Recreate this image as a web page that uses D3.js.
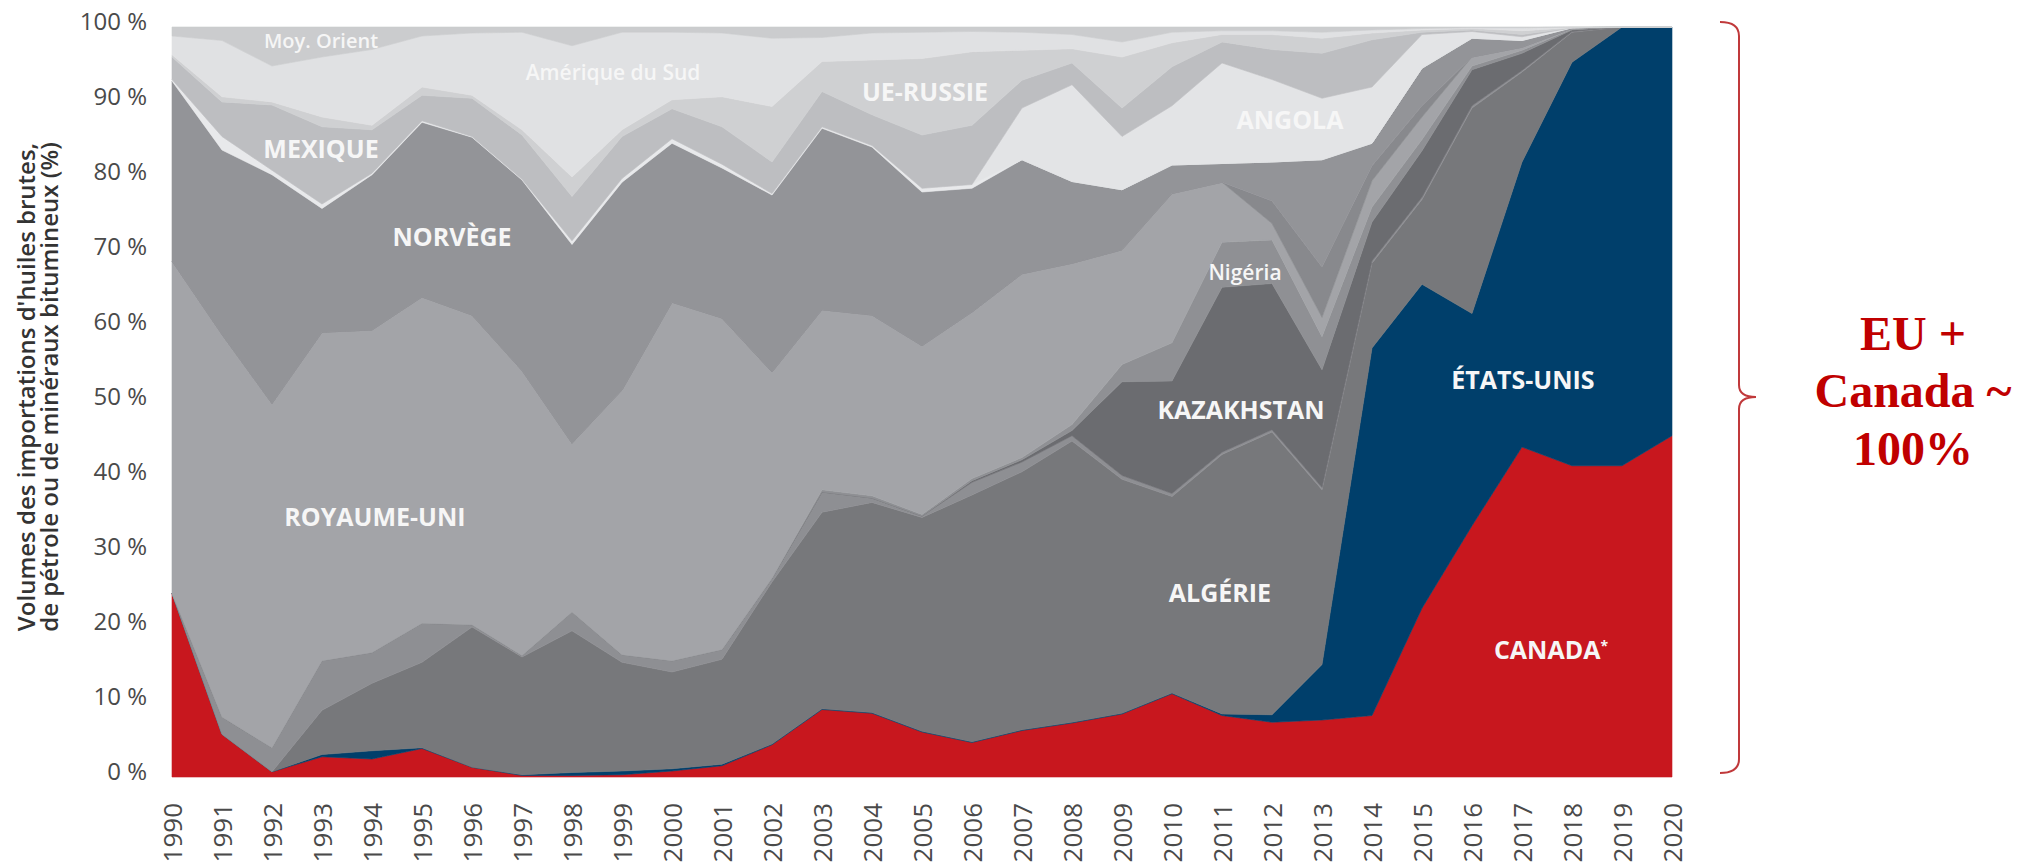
<!DOCTYPE html>
<html>
<head>
<meta charset="utf-8">
<script src="https://cdn.jsdelivr.net/npm/d3@7"></script>
<style>
  body { margin: 0; background: #ffffff; }
  svg { display: block; }
</style>
</head>
<body>
<svg id="chart" width="2037" height="865"></svg>
<script>
// ---------- DATA (shares in %, stacked bottom to top) ----------
const years = [1990,1991,1992,1993,1994,1995,1996,1997,1998,1999,2000,2001,2002,2003,2004,2005,2006,2007,2008,2009,2010,2011,2012,2013,2014,2015,2016,2017,2018,2019,2020];

const canada      = [24.5,5.7,0.7,2.7,2.4,3.8,1.3,0.2,0.2,0.3,0.8,1.5,4.3,9.0,8.5,6.0,4.6,6.2,7.2,8.4,11.1,8.2,7.3,7.6,8.2,22.5,33.5,44.0,41.5,41.5,45.5];
const etatsUnis   = [0,0,0,0.3,1.1,0.1,0,0.1,0.4,0.5,0.3,0.2,0.1,0.1,0.1,0.1,0.1,0.1,0.1,0.1,0.1,0.2,1.0,7.4,49.0,43.2,28.3,38.0,53.8,58.5,54.5];
const algerie     = [0,0,0,5.9,9.0,11.4,18.7,15.7,18.9,14.5,12.9,14.0,21.6,26.2,28.0,28.5,32.9,34.4,37.5,31.2,26.2,34.6,37.7,23.3,11.3,11.3,27.4,12.0,4.0,0,0];
const autreA      = [0,2.3,3.2,6.6,4.1,5.2,0.3,0.2,2.5,1.0,1.5,1.3,0.5,2.7,0.6,0.2,1.7,1.3,0.7,0.5,0.4,0.3,0.3,0.3,0.3,0.3,0.3,0.2,0.1,0,0];
const kazakhstan  = [0,0,0,0,0,0,0,0,0,0,0,0,0,0,0,0,0.2,0.3,0.7,12.5,15.0,22.0,19.5,15.7,5.2,6.2,4.8,2.3,0.2,0,0];
const nigeria     = [0,0,0,0,0,0,0,0,0,0,0,0,0,0.3,0.3,0.2,0.3,0.3,0.8,2.3,5.1,6.0,5.8,4.4,2.0,1.5,0.5,0.4,0.1,0,0];
const royaumeUni  = [44.3,51.0,45.9,43.8,43.0,43.5,41.3,38.0,22.5,35.3,47.8,44.2,27.5,24.0,24.1,22.5,22.2,24.5,21.5,15.3,19.9,8.0,2.2,2.6,3.5,3.0,1.2,0.4,0.1,0,0];
const autreB      = [0,0,0,0,0,0,0,0,0,0,0,0,0,0,0,0,0,0,0,0,0,0,3.0,6.7,2.0,1.5,0,0,0,0,0];
const norvege     = [24.0,24.6,30.5,16.5,20.7,23.3,23.7,25.4,26.5,27.7,21.2,20.0,23.6,24.2,22.4,20.5,16.5,15.2,10.9,8.0,3.8,2.5,5.2,14.3,3.0,5.0,2.5,0.9,0.1,0,0];
const autreW      = [0.2,1.8,0.6,0.6,0.2,0.2,0.1,0.1,0.5,0.5,0.6,0.5,0.2,0.2,0.2,0.5,0.5,0,0,0,0,0,0,0,0,0,0,0,0,0,0];
const angola      = [0,0,0,0,0,0,0,0,0,0,0,0,0,0,0,0,0,6.9,12.9,7.1,7.9,13.4,11.0,8.2,7.5,4.5,0.9,0.5,0,0,0];
const mexique     = [3.0,4.6,8.7,10.3,5.8,3.4,5.1,5.9,5.9,5.6,4.0,5.0,4.2,4.7,4.1,7.1,7.9,3.7,2.9,3.8,5.2,2.8,4.0,6.0,6.3,0.3,0.2,0.3,0,0,0];
const ueRussie    = [0.3,0.7,0.4,1.3,0.6,1.1,0.4,0.7,2.6,0.9,1.2,4.0,7.4,4.0,7.3,10.2,9.8,4.0,1.9,6.8,3.2,1.0,2.0,2.0,0.9,0.3,0.2,0.5,0,0,0];
const ameriqueSud = [2.5,7.5,4.8,8.0,10.1,6.8,8.3,13.0,17.5,13.0,9.0,8.5,9.1,3.2,3.6,3.5,2.7,2.4,1.9,2.0,1.4,0.5,0.5,0.8,0.4,0.2,0.1,0.4,0.1,0,0];
const moyOrient   = [1.2,1.8,5.2,4.0,3.0,1.2,0.8,0.7,2.5,0.7,0.7,0.8,1.5,1.4,0.8,0.7,0.6,0.7,1.0,2.0,0.7,0.5,0.5,0.7,0.4,0.2,0.1,0.1,0,0,0];

const yTicks = [0,10,20,30,40,50,60,70,80,90,100];

// ---------- SERIES / STYLE ----------
const series = [
  {key:"canada",      values:canada,      color:"#c8171e"},
  {key:"etatsUnis",   values:etatsUnis,   color:"#003f6b"},
  {key:"algerie",     values:algerie,     color:"#77787b"},
  {key:"autreA",      values:autreA,      color:"#8e8f93"},
  {key:"kazakhstan",  values:kazakhstan,  color:"#6b6c70"},
  {key:"nigeria",     values:nigeria,     color:"#8f9094"},
  {key:"royaumeUni",  values:royaumeUni,  color:"#a3a4a8"},
  {key:"autreB",      values:autreB,      color:"#88898d"},
  {key:"norvege",     values:norvege,     color:"#939498"},
  {key:"autreW",      values:autreW,      color:"#e8e9eb"},
  {key:"angola",      values:angola,      color:"#e3e4e6"},
  {key:"mexique",     values:mexique,     color:"#bdbec1"},
  {key:"ueRussie",    values:ueRussie,    color:"#cfd0d2"},
  {key:"ameriqueSud", values:ameriqueSud, color:"#e0e1e3"},
  {key:"moyOrient",   values:moyOrient,   color:"#cbccce"}
];

const rows = years.map((yr, i) => {
  const r = {year: yr};
  series.forEach(s => r[s.key] = s.values[i]);
  return r;
});

const svg = d3.select("#chart");
const x = d3.scaleLinear().domain([1990, 2020]).range([172, 1672]);
const y = d3.scaleLinear().domain([0, 100]).range([777, 27]).clamp(true);

const stacked = d3.stack().keys(series.map(s => s.key))(rows);
const area = d3.area()
  .x(d => x(d.data.year))
  .y0(d => y(d[0]))
  .y1(d => y(d[1]))
  .curve(d3.curveLinear);

svg.append("g").selectAll("path")
  .data(stacked)
  .join("path")
  .attr("d", area)
  .attr("fill", (d, i) => series[i].color)
  .attr("stroke", (d, i) => series[i].color)
  .attr("stroke-width", 0.6)
  .attr("stroke-linejoin", "round");

// ---------- AXES ----------
const yAxis = svg.append("g")
  .attr("transform", `translate(${x(1990)},0)`)
  .call(d3.axisLeft(y).tickValues(yTicks).tickSize(0).tickPadding(25).tickFormat(d => d + " %"));
yAxis.select(".domain").remove();
yAxis.selectAll("text")
  .attr("font-family", "'Open Sans', sans-serif")
  .attr("font-size", 24)
  .attr("fill", "#4a4a4a")
  .attr("dy", "0.12em");

const xAxis = svg.append("g")
  .attr("transform", `translate(0,${y(0)})`)
  .call(d3.axisBottom(x).tickValues(years).tickSize(0).tickFormat(d3.format("d")));
xAxis.select(".domain").remove();
xAxis.selectAll("text")
  .attr("font-family", "'Open Sans', sans-serif")
  .attr("font-size", 26)
  .attr("fill", "#4a4a4a")
  .attr("transform", "rotate(-90)")
  .attr("text-anchor", "end")
  .attr("x", -26)
  .attr("y", 0)
  .attr("dy", "0.36em");

// Y axis title
const yTitle = svg.append("text")
  .attr("transform", "translate(38,387) rotate(-90)")
  .attr("text-anchor", "middle")
  .attr("font-family", "'Open Sans', sans-serif")
  .attr("font-weight", 600)
  .attr("font-size", 24)
  .attr("fill", "#333333");
yTitle.append("tspan").attr("x", 0).attr("y", -11).attr("dy", "0.35em").text("Volumes des importations d'huiles brutes,");
yTitle.append("tspan").attr("x", 0).attr("y", 12).attr("dy", "0.35em").text("de pétrole ou de minéraux bitumineux (%)");

// ---------- AREA LABELS ----------
const labels = [
  {text:"Moy. Orient",     year:1992.98, value:98.1, size:20, weight:600},
  {text:"Amérique du Sud", year:1998.82, value:93.9, size:21, weight:600},
  {text:"MEXIQUE",         year:1992.98, value:83.7, size:25, weight:700},
  {text:"NORVÈGE",         year:1995.60, value:72.0, size:25, weight:700},
  {text:"ROYAUME-UNI",     year:1994.06, value:34.7, size:25, weight:700},
  {text:"UE-RUSSIE",       year:2005.06, value:91.3, size:25, weight:700},
  {text:"ANGOLA",          year:2012.36, value:87.6, size:25, weight:700},
  {text:"Nigéria",         year:2011.46, value:67.3, size:21, weight:600},
  {text:"KAZAKHSTAN",      year:2011.38, value:48.9, size:25, weight:700},
  {text:"ALGÉRIE",         year:2010.96, value:24.5, size:25, weight:700},
  {text:"ÉTATS-UNIS",      year:2017.02, value:52.9, size:25, weight:700},
  {text:"CANADA",          year:2017.58, value:16.9, size:25, weight:700, sup:"*"}
];
const lab = svg.append("g").selectAll("text")
  .data(labels)
  .join("text")
  .attr("x", d => x(d.year))
  .attr("y", d => y(d.value))
  .attr("dy", "0.36em")
  .attr("text-anchor", "middle")
  .attr("font-family", "'Open Sans', sans-serif")
  .attr("font-size", d => d.size)
  .attr("font-weight", d => d.weight)
  .attr("fill", "#f6f6f6")
  .text(d => d.text);
lab.filter(d => d.sup).append("tspan")
  .attr("font-size", 14)
  .attr("dy", "-0.6em")
  .text(d => d.sup);

// ---------- ANNOTATION (brace + text) ----------
const bx = 1739, bTop = 22, bBot = 773, bMid = 397;
const brace = d3.path();
brace.moveTo(bx - 19, bTop);
brace.quadraticCurveTo(bx, bTop, bx, bTop + 14);
brace.lineTo(bx, bMid - 12);
brace.quadraticCurveTo(bx, bMid, bx + 17, bMid);
brace.quadraticCurveTo(bx, bMid, bx, bMid + 12);
brace.lineTo(bx, bBot - 14);
brace.quadraticCurveTo(bx, bBot, bx - 19, bBot);
svg.append("path")
  .attr("d", brace.toString())
  .attr("fill", "none")
  .attr("stroke", "#c0393b")
  .attr("stroke-width", 2);

const note = svg.append("text")
  .attr("text-anchor", "middle")
  .attr("font-family", "'Liberation Serif', 'Times New Roman', serif")
  .attr("font-weight", "bold")
  .attr("font-size", 48)
  .attr("fill", "#c00000");
note.append("tspan").attr("x", 1913).attr("y", 350).text("EU +");
note.append("tspan").attr("x", 1913).attr("y", 407).text("Canada ~");
note.append("tspan").attr("x", 1913).attr("y", 465).text("100%");
</script>
</body>
</html>
